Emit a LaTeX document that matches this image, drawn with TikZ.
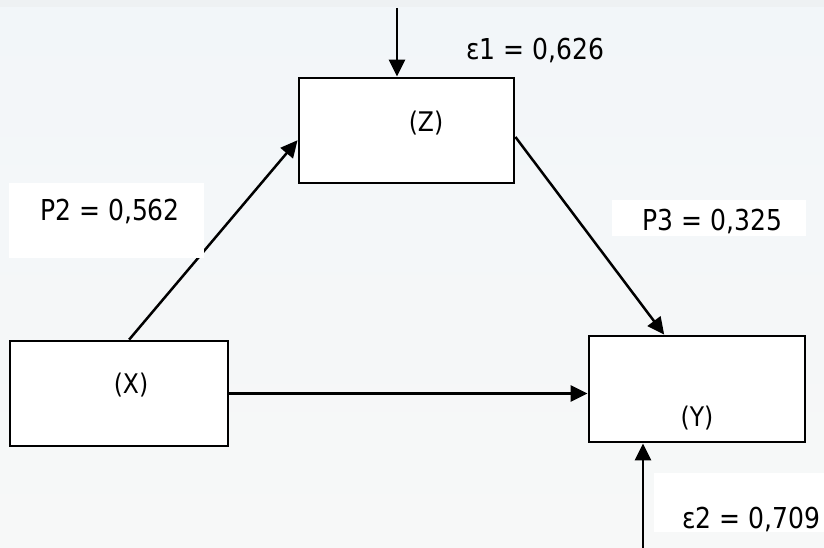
\documentclass[tikz,border=0pt]{standalone}
\usepackage{fontspec}
\setmainfont{DejaVu Sans}[FakeStretch=0.87]
\usetikzlibrary{arrows.meta,calc}

\definecolor{bgtop}{HTML}{F2F6F9}
\definecolor{bgbot}{HTML}{F7F8F8}
\definecolor{bgstrip}{HTML}{EEF1F3}

\tikzset{
  varbox/.style={draw=black, line width=2.8pt, fill=white, inner sep=0pt,
                 rectangle, text width=0pt},
  labelpad/.style={fill=white, inner sep=0pt, rectangle},
  boxtext/.style={anchor=base, inner sep=0pt, font=\fontsize{27}{29}\selectfont},
  valtext/.style={anchor=base, inner sep=0pt, font=\fontsize{28.8}{30}\selectfont},
  path/.style={line width=2.5pt, -{Triangle[length=17pt,width=16pt]}},
}

\begin{document}
\begin{tikzpicture}[x=1pt, y=-1pt]
  \useasboundingbox (0,0) rectangle (824,548);

  % background
  \shade[top color=bgtop, bottom color=bgbot] (0,0) rectangle (824,548);
  \fill[bgstrip] (0,0) rectangle (824,7);

  % variable boxes
  \node[varbox, minimum width=218pt, minimum height=105pt] (X) at (119,393.5) {};
  \node[varbox, minimum width=215pt, minimum height=105pt] (Z) at (406.5,130.5) {};
  \node[varbox, minimum width=216pt, minimum height=106pt] (Y) at (697,389) {};

  % free ends of the error arrows
  \coordinate (e1) at (397,8);
  \coordinate (e2) at (643,548);

  % paths
  \draw[path] ($(X.north west)!0.546!(X.north east)$)
           -- ($(Z.north west)!0.59!(Z.south west)$);
  \draw[path] ($(Z.north east)!0.56!(Z.south east)$)
           -- ($(Y.north west)!0.35!(Y.north east)$);
  \draw[path, line width=3pt] (X.east) -- (X.east -| Y.west);
  \draw[path] (e1) -- (e1 |- Z.north);
  \draw[path] (e2) -- (e2 |- Y.south);

  % white pads behind the coefficient labels
  \node[labelpad, minimum width=195pt, minimum height=75pt] (padP2) at (106.5,220.5) {};
  \node[labelpad, minimum width=194pt, minimum height=36pt] (padP3) at (709,218) {};
  \node[labelpad, minimum width=170pt, minimum height=59pt] (padE2) at (739,502.5) {};

  % box labels
  \node[boxtext] (tX) at (131,393.5) {(X)};
  \node[boxtext] (tZ) at (426,131.5) {(Z)};
  \node[boxtext] (tY) at (697,426.5) {(Y)};

  % coefficients
  \node[valtext] (tP2) at (110,220) {P2 = 0,562};
  \node[valtext] (tP3) at (712.5,230) {P3 = 0,325};
  \node[valtext] (tE1) at (535.5,60) {ε1 = 0,626};
  \node[valtext, anchor=base west] (tE2) at (682,528) {ε2 = 0,709};
\end{tikzpicture}
\end{document}
